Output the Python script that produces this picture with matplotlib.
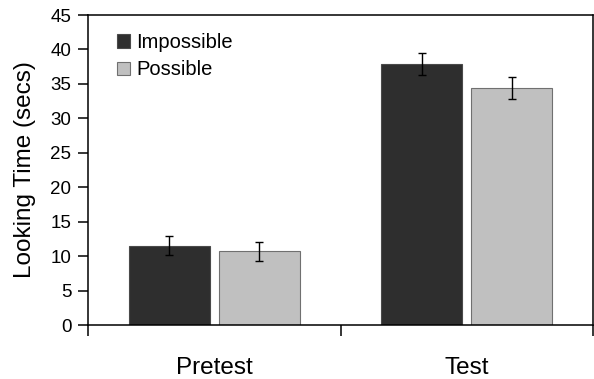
import matplotlib
matplotlib.use("Agg")
import matplotlib.pyplot as plt
import numpy as np

plt.rcParams['font.family'] = ['Liberation Sans', 'DejaVu Sans']

categories = ["Pretest", "Test"]
series_names = ["Impossible", "Possible"]
impossible = [11.5, 37.9]
possible = [10.7, 34.4]
impossible_err = [1.4, 1.65]
possible_err = [1.4, 1.6]
yticks = [0, 5, 10, 15, 20, 25, 30, 35, 40, 45]

fig = plt.figure(figsize=(5.94, 3.79), dpi=100)
ax = fig.add_axes([88/594, 54/379, 505/594, 310/379])

x = np.arange(len(categories))
w = 0.32
off = 0.178
ax.bar(x - off, impossible, w, color="#2e2e2e", edgecolor="#4a4a4a", linewidth=0.8,
       label=series_names[0], zorder=2)
ax.bar(x + off, possible, w, color="#c0c0c0", edgecolor="#707070", linewidth=0.8,
       label=series_names[1], zorder=2)
ax.errorbar(x - off, impossible, yerr=impossible_err, fmt="none", ecolor="black",
            elinewidth=1, capsize=3, capthick=1, zorder=3)
ax.errorbar(x + off, possible, yerr=possible_err, fmt="none", ecolor="black",
            elinewidth=1, capsize=3, capthick=1, zorder=3)

ax.set_xlim(-0.5, len(categories) - 0.5)
ax.set_ylim(0, 45)
ax.set_yticks(yticks)
ax.set_yticklabels([str(v) for v in yticks], fontsize=13.5)
ax.tick_params(axis='y', direction='out', length=7, width=1.1, pad=5)

ax.set_xticks(np.arange(len(categories) + 1) - 0.5)
ax.set_xticklabels([])
ax.tick_params(axis='x', which='major', direction='out', length=8, width=1.1)
ax.set_xticks(x, minor=True)
ax.set_xticklabels(categories, minor=True, fontsize=17.5)
ax.tick_params(axis='x', which='minor', length=0, pad=23)

ax.set_ylabel("Looking Time (secs)", fontsize=17.5, labelpad=10)

for s in ax.spines.values():
    s.set_linewidth(1.1)
    s.set_color("black")

leg = ax.legend(loc="upper left", bbox_to_anchor=(0.042, 0.968), frameon=False,
                fontsize=14.5, handlelength=0.65, handleheight=0.65,
                handletextpad=0.3, labelspacing=0.42, borderaxespad=0)

fig.savefig("out.png", dpi=100)
